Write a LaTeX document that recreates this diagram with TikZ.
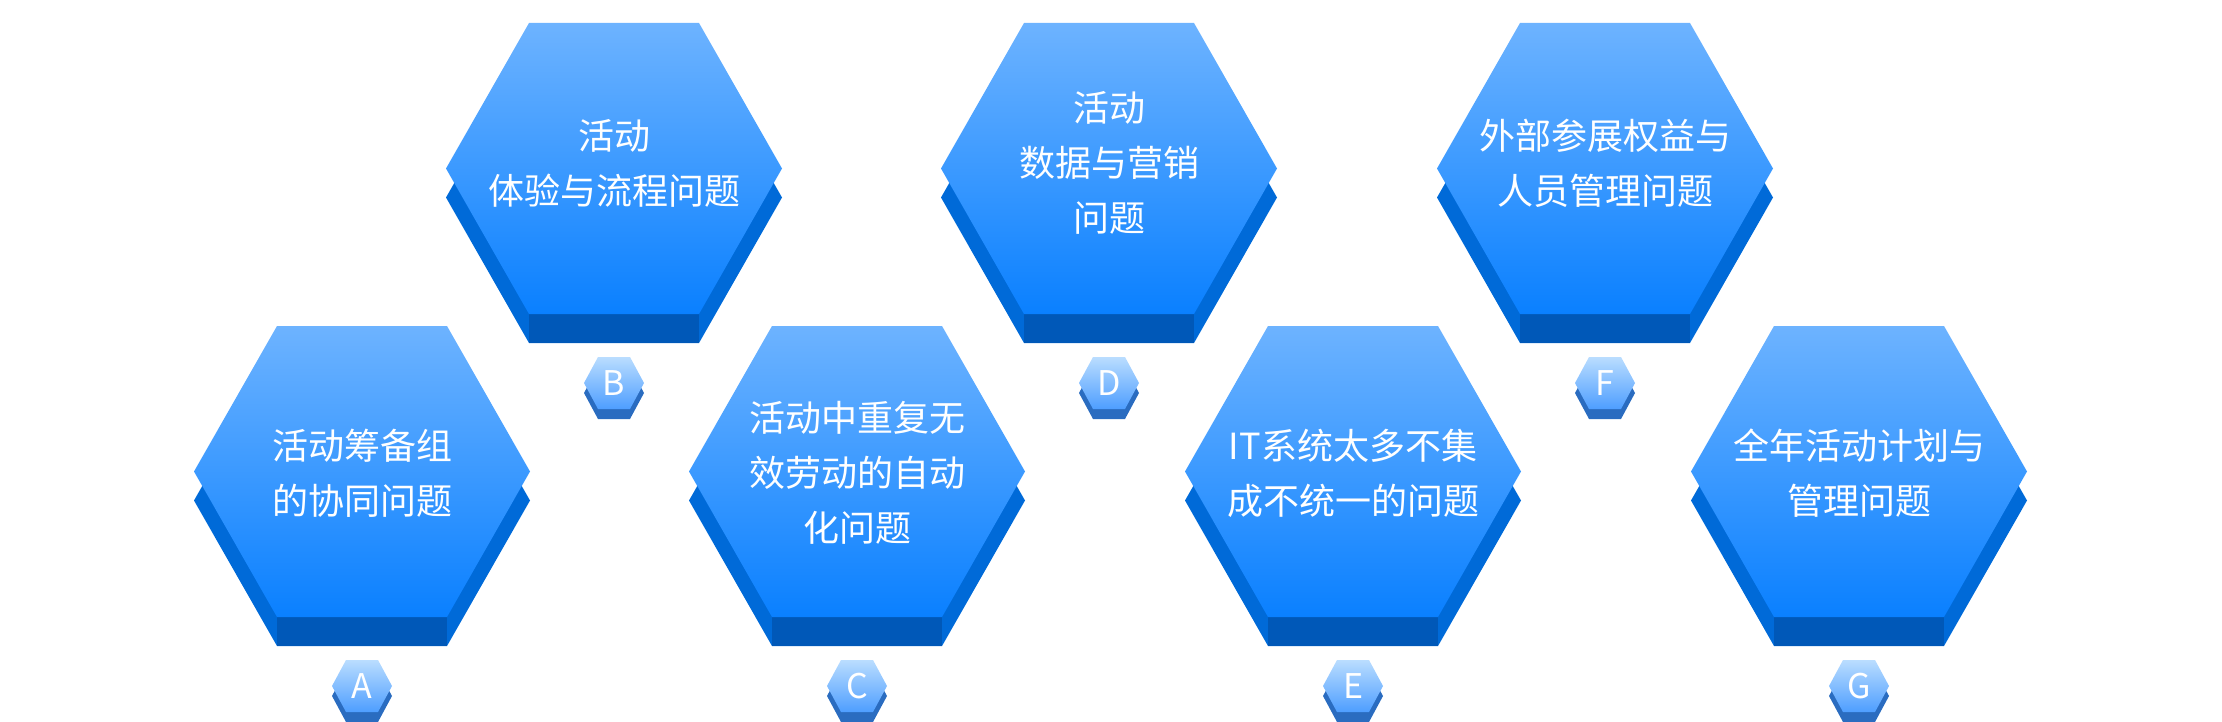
\documentclass[tikz,border=0pt]{standalone}
\usepackage{fontspec}
\newfontfamily\cjk{Noto Sans CJK SC}
\definecolor{hexTop}{HTML}{6DB3FF}
\definecolor{hexBot}{HTML}{0A80FF}
\definecolor{hexSide}{HTML}{006AD8}
\definecolor{hexBase}{HTML}{0058B8}
\definecolor{tagTop}{HTML}{BADDFF}
\definecolor{tagBot}{HTML}{4E9EFF}
\definecolor{tagBase}{HTML}{2A6CC0}
\tikzset{
  label text/.style={text=white, align=center, font=\cjk\fontsize{18pt}{27.5pt}\selectfont},
  tag text/.style={text=white, font=\cjk\fontsize{17pt}{17pt}\selectfont},
}
% big hexagon: #1 = centre x, #2 = top y
\newcommand{\bighex}[2]{
  \fill[hexSide] (#1-168,#2+145.5+29) -- (#1-85,#2+29) -- (#1+85,#2+29) -- (#1+168,#2+145.5+29)
    -- (#1+85,#2+291+29) -- (#1-85,#2+291+29) -- cycle;
  \fill[hexBase] (#1-85,#2+291) rectangle (#1+85,#2+291+29);
  \shade[top color=hexTop, bottom color=hexBot] (#1-168,#2+145.5) -- (#1-85,#2) -- (#1+85,#2)
    -- (#1+168,#2+145.5) -- (#1+85,#2+291) -- (#1-85,#2+291) -- cycle;
}
% small tag hexagon
\newcommand{\taghex}[2]{
  \fill[tagBase] (#1-30,#2+26+10) -- (#1-16,#2+10) -- (#1+16,#2+10) -- (#1+30,#2+26+10)
    -- (#1+16,#2+52+10) -- (#1-16,#2+52+10) -- cycle;
  \shade[top color=tagTop, bottom color=tagBot] (#1-30,#2+26) -- (#1-16,#2) -- (#1+16,#2)
    -- (#1+30,#2+26) -- (#1+16,#2+52) -- (#1-16,#2+52) -- cycle;
}
\begin{document}
\begin{tikzpicture}[x=0.5pt, y=-0.5pt]
\useasboundingbox (0,0) rectangle (2222,722);

% lower row
\foreach \cx in {362,857,1353,1859} {\bighex{\cx}{326} \taghex{\cx}{660}}
% upper row
\foreach \cx in {614,1109,1605} {\bighex{\cx}{23} \taghex{\cx}{357}}

\node[label text] (probA) at (362,473) {活动筹备组\\的协同问题};
\node[label text] (probB) at (614,163) {活动\\体验与流程问题};
\node[label text] (probC) at (857,473) {活动中重复无\\效劳动的自动\\化问题};
\node[label text] (probD) at (1109,163) {活动\\数据与营销\\问题};
\node[label text] (probE) at (1353,473) {IT系统太多不集\\成不统一的问题};
\node[label text] (probF) at (1605,163) {外部参展权益与\\人员管理问题};
\node[label text] (probG) at (1859,473) {全年活动计划与\\管理问题};

\node[tag text] (tagA) at (362,686) {A};
\node[tag text] (tagB) at (614,383) {B};
\node[tag text] (tagC) at (857,686) {C};
\node[tag text] (tagD) at (1109,383) {D};
\node[tag text] (tagE) at (1353,686) {E};
\node[tag text] (tagF) at (1605,383) {F};
\node[tag text] (tagG) at (1859,686) {G};
\end{tikzpicture}
\end{document}
